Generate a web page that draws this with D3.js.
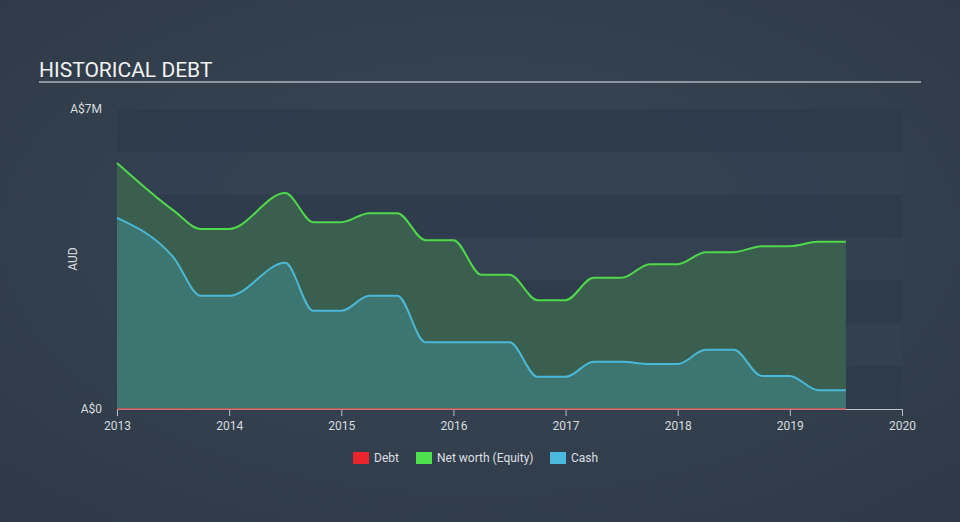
<!DOCTYPE html>
<html>
<head>
<meta charset="utf-8">
<script src="https://cdn.jsdelivr.net/npm/d3@7"></script>
<style>
html,body{margin:0;padding:0;background:#333f4f;}
svg{display:block;font-family:Roboto,"Open Sans",sans-serif;}
</style>
</head>
<body>
<svg id="chart" width="960" height="522"></svg>
<script>
const dates = [2013.0, 2013.5, 2013.75, 2014.0, 2014.5, 2014.75, 2015.0, 2015.25, 2015.5, 2015.75, 2016.0, 2016.25, 2016.5, 2016.75, 2017.0, 2017.25, 2017.5, 2017.75, 2018.0, 2018.25, 2018.5, 2018.75, 2019.0, 2019.25, 2019.5];
const equity = [5.74, 4.64, 4.20, 4.20, 5.04, 4.36, 4.36, 4.57, 4.57, 3.94, 3.94, 3.13, 3.13, 2.54, 2.54, 3.06, 3.06, 3.38, 3.38, 3.66, 3.66, 3.80, 3.80, 3.90, 3.90];
const cash = [4.46, 3.55, 2.64, 2.64, 3.41, 2.29, 2.29, 2.64, 2.64, 1.56, 1.56, 1.56, 1.56, 0.75, 0.75, 1.10, 1.10, 1.05, 1.05, 1.38, 1.38, 0.77, 0.77, 0.44, 0.44];
const debt = [0, 0, 0, 0, 0, 0, 0, 0, 0, 0, 0, 0, 0, 0, 0, 0, 0, 0, 0, 0, 0, 0, 0, 0, 0];
const xTicks = [2013, 2014, 2015, 2016, 2017, 2018, 2019, 2020];
const yTickLabels = ["A$0", "A$7M"];
const legendItems = ["Debt", "Net worth (Equity)", "Cash"];
const legendColors = ["#e8262b", "#4fe04f", "#4ab8df"];

const svg = d3.select("#chart");
const W = 960, H = 522;
const defs = svg.append("defs");
const rg = defs.append("radialGradient").attr("id","bg").attr("cx","50%").attr("cy","45%").attr("r","75%");
rg.append("stop").attr("offset","0%").attr("stop-color","#3a4757");
rg.append("stop").attr("offset","100%").attr("stop-color","#2d3946");
svg.append("rect").attr("width",W).attr("height",H).attr("fill","url(#bg)");

const x = d3.scaleLinear().domain([2013, 2020]).range([117, 902]);
const y = d3.scaleLinear().domain([0, 7]).range([409, 109]);

// bands
const bandVals = d3.range(0, 7);
svg.append("g").selectAll("rect").data(bandVals).join("rect")
  .attr("x", x(2013)).attr("width", x(2020) - x(2013))
  .attr("y", d => y(d + 1)).attr("height", d => y(d) - y(d + 1))
  .attr("fill", d => d % 2 === 0 ? "#2e3b4b" : "#344151")
  .attr("opacity", 0.85);

const data = dates.map((d, i) => ({d, e: equity[i], c: cash[i], b: debt[i]}));

const areaE = d3.area().curve(d3.curveMonotoneX).x(p => x(p.d)).y0(y(0)).y1(p => y(p.e));
const areaC = d3.area().curve(d3.curveMonotoneX).x(p => x(p.d)).y0(y(0)).y1(p => y(p.c));
const lineE = d3.line().curve(d3.curveMonotoneX).x(p => x(p.d)).y(p => y(p.e));
const lineC = d3.line().curve(d3.curveMonotoneX).x(p => x(p.d)).y(p => y(p.c));
const lineD = d3.line().x(p => x(p.d)).y(p => y(p.b));

svg.append("path").datum(data).attr("d", areaE).attr("fill", "#3a5f4e");
svg.append("path").datum(data).attr("d", areaC).attr("fill", "#3d7570");
svg.append("path").datum(data).attr("d", lineE).attr("fill", "none").attr("stroke", "#4fd84a").attr("stroke-width", 2);
svg.append("path").datum(data).attr("d", lineC).attr("fill", "none").attr("stroke", "#4ab8d8").attr("stroke-width", 2);

// x axis
const xAxis = d3.axisBottom(x).tickValues(xTicks).tickFormat(d3.format("d")).tickSize(7).tickSizeOuter(0);
const gx = svg.append("g").attr("transform", `translate(0,${y(0)})`).call(xAxis);
gx.select(".domain").attr("stroke", "#b8c0c8").attr("stroke-width", 1);
gx.selectAll(".tick line").attr("stroke", "#b8c0c8");
gx.selectAll(".tick text").attr("fill", "#d8dcdf").attr("font-size", 12).attr("dy", "0.9em")
  .attr("font-family", "Roboto, sans-serif");

svg.append("path").datum(data).attr("d", lineD).attr("fill", "none").attr("stroke", "#d9534f").attr("stroke-width", 2).attr("opacity", 0.7);

// y labels
const yAxis = d3.axisLeft(y).tickValues([0, 7]).tickFormat((d, i) => yTickLabels[i]).tickSize(0).tickPadding(15);
const gy = svg.append("g").attr("transform", `translate(${x(2013)},0)`).call(yAxis);
gy.select(".domain").remove();
gy.selectAll(".tick text").attr("fill", "#d8dcdf").attr("font-size", 12).attr("font-family", "Roboto, sans-serif");

svg.append("text").attr("transform", "translate(77,259) rotate(-90)").attr("text-anchor", "middle")
  .attr("fill", "#d8dcdf").attr("font-size", 12).text("AUD");

// title
svg.append("text").attr("x", 39).attr("y", 77).attr("fill", "#f2f2f2").attr("font-size", 21).text("HISTORICAL DEBT");
svg.append("line").attr("x1", 39).attr("x2", 921).attr("y1", 82).attr("y2", 82).attr("stroke", "#aab3bd").attr("stroke-width", 1.5);

// legend
const lg = svg.append("g");
const legX = [353, 416, 550];
legendItems.forEach((t, i) => {
  lg.append("rect").attr("x", legX[i]).attr("y", 452).attr("width", 16).attr("height", 12).attr("fill", legendColors[i]);
  lg.append("text").attr("x", legX[i] + 21).attr("y", 462).attr("fill", "#dcdfe2").attr("font-size", 12).text(t);
});
</script>
</body>
</html>
